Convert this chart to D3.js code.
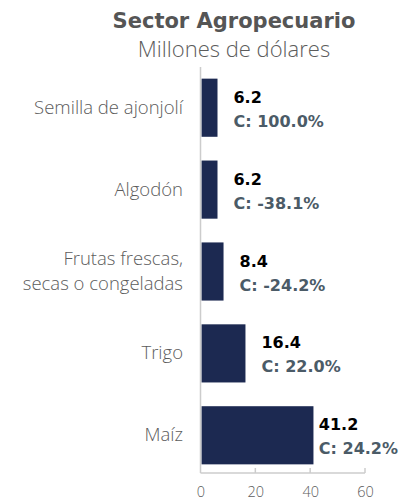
<!DOCTYPE html>
<html>
<head>
<meta charset="utf-8">
<script src="https://cdn.jsdelivr.net/npm/d3@7"></script>
<style>
  html, body { margin: 0; padding: 0; background: #fff; }
  svg { display: block; }
</style>
</head>
<body>
<svg id="chart" width="401" height="501"></svg>
<script>
// Export categories (top to bottom), values in millions of dollars, and change
const categories = ["Semilla de ajonjolí", "Algodón", "Frutas frescas,\nsecas o congeladas", "Trigo", "Maíz"];
const values = [6.2, 6.2, 8.4, 16.4, 41.2];
const changes = ["100.0%", "-38.1%", "-24.2%", "22.0%", "24.2%"];
const xTicks = [0, 20, 40, 60];

const svg = d3.select("#chart");
const W = 401;

const x = d3.scaleLinear().domain([0, 60]).range([200.5, 365]);
const y = d3.scaleBand().domain(categories).range([68, 475]).paddingInner(0.29).paddingOuter(0.13);

// Title
svg.append("text").attr("x", 234).attr("y", 28).attr("text-anchor", "middle")
  .attr("font-family", "'DejaVu Sans', sans-serif").attr("font-weight", 700)
  .attr("font-size", 21).attr("fill", "#555").text("Sector Agropecuario");
svg.append("text").attr("x", 234).attr("y", 57).attr("text-anchor", "middle")
  .attr("font-family", "'Open Sans', sans-serif").attr("font-weight", 300)
  .attr("font-size", 22).attr("fill", "#5c5c5c").text("Millones de dólares");

// Bars
svg.selectAll("rect.bar").data(categories).join("rect")
  .attr("class", "bar")
  .attr("x", x(0) + 1)
  .attr("y", d => y(d))
  .attr("width", (d, i) => x(values[i]) - x(0) - 1)
  .attr("height", y.bandwidth())
  .attr("fill", "#1c2951");

// Axes
const axisY = 473;
const xAxis = d3.axisBottom(x).tickValues(xTicks).tickSize(0).tickPadding(0);
const gx = svg.append("g").attr("transform", `translate(0,${axisY})`).call(xAxis);
gx.select(".domain").remove();
gx.selectAll("text").attr("dy", null).attr("y", 24)
  .attr("font-family", "'Open Sans', sans-serif").attr("font-weight", 300)
  .attr("font-size", 14.5).attr("fill", "#5c5c5c");
svg.append("line").attr("x1", x(0)).attr("x2", x(60)).attr("y1", axisY).attr("y2", axisY)
  .attr("stroke", "#ccc").attr("stroke-width", 1.5);
svg.selectAll("line.tick").data(xTicks.slice(1)).join("line").attr("class", "tick")
  .attr("x1", d => x(d)).attr("x2", d => x(d)).attr("y1", axisY - 5).attr("y2", axisY)
  .attr("stroke", "#ccc").attr("stroke-width", 1.5);
svg.append("line").attr("x1", x(0)).attr("x2", x(0)).attr("y1", 67).attr("y2", axisY)
  .attr("stroke", "#ccc").attr("stroke-width", 1.5);

// Category labels
const cat = svg.selectAll("text.cat").data(categories).join("text").attr("class", "cat")
  .attr("text-anchor", "end").attr("font-family", "'Open Sans', sans-serif").attr("font-weight", 300)
  .attr("font-size", 18.5).attr("fill", "#5c5c5c");
cat.each(function(d) {
  const lines = d.split("\n");
  const cy = y(d) + y.bandwidth() / 2;
  const t = d3.select(this);
  lines.forEach((ln, j) => {
    t.append("tspan").attr("x", 183)
      .attr("y", cy + 6 + (j - (lines.length - 1) / 2) * 24.5)
      .text(ln);
  });
});

// Value labels, kept inside the right edge
categories.forEach((c, i) => {
  const cy = y(c) + y.bandwidth() / 2;
  const g = svg.append("g");
  const t1 = g.append("text").attr("y", cy - 5)
    .attr("font-family", "'DejaVu Sans', sans-serif").attr("font-weight", 700)
    .attr("font-size", 16).attr("fill", "#000").text(values[i].toFixed(1));
  const t2 = g.append("text").attr("y", cy + 19)
    .attr("font-family", "'DejaVu Sans', sans-serif").attr("font-weight", 700)
    .attr("font-size", 16).attr("fill", "#4b5b67").text("C: " + changes[i]);
  const wMax = Math.max(t1.node().getComputedTextLength(), t2.node().getComputedTextLength());
  const lx = Math.min(x(values[i]) + 16, W - 3 - wMax);
  t1.attr("x", lx);
  t2.attr("x", lx);
});
</script>
</body>
</html>
